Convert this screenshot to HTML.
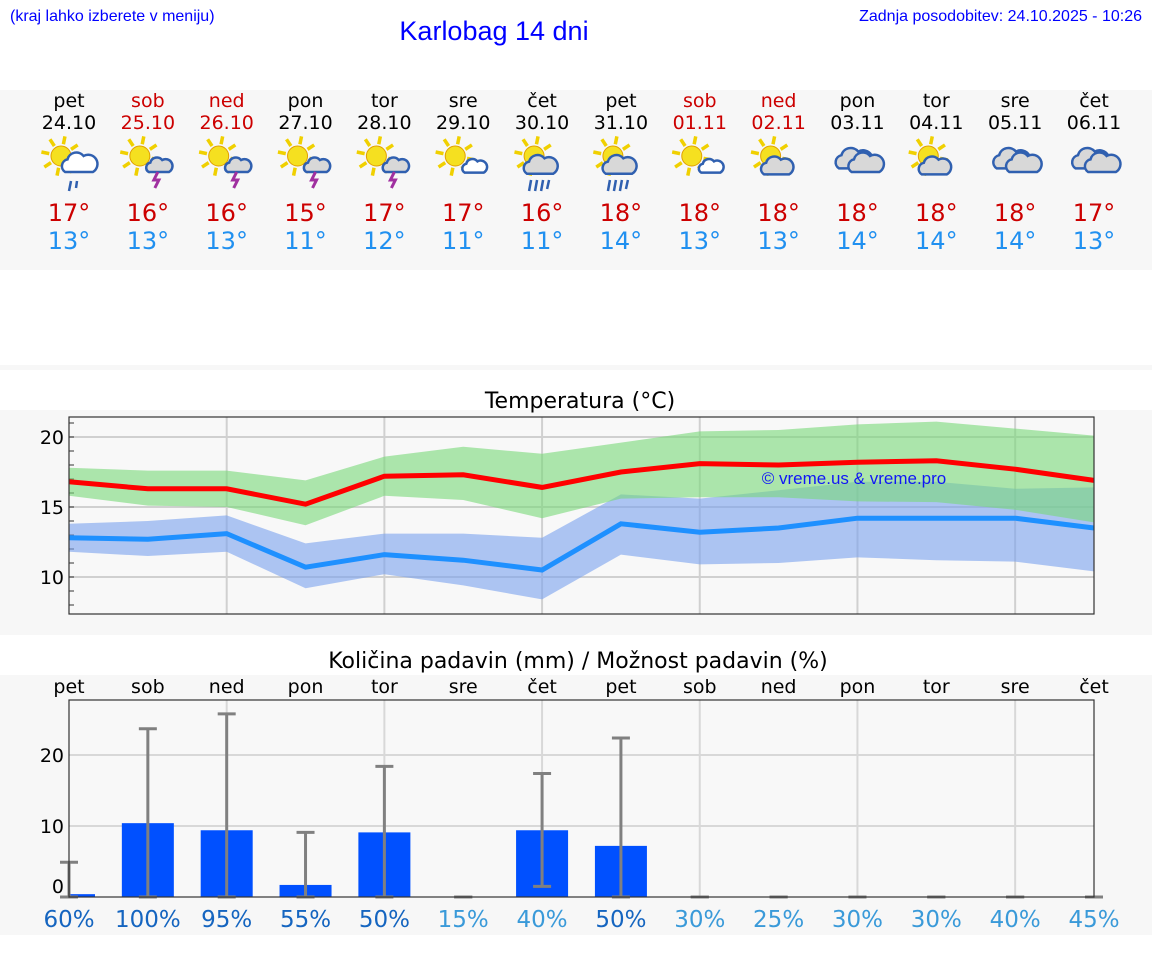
<!DOCTYPE html>
<html><head><meta charset="utf-8"><style>
body{margin:0;width:1152px;height:975px;background:#fff;font-family:"Liberation Sans","DejaVu Sans",sans-serif;position:relative;overflow:hidden}
svg{position:absolute;left:0;top:0}
</style></head><body>
<svg width="1152" height="975" id="svg" font-family="DejaVu Sans, Liberation Sans, sans-serif">
<text x="10" y="21" font-size="16" fill="#0000ff" font-family="Liberation Sans">(kraj lahko izberete v meniju)</text>
<text x="494" y="40" font-size="27" fill="#0000ff" text-anchor="middle" font-family="Liberation Sans">Karlobag 14 dni</text>
<text x="1142" y="21" font-size="16" fill="#0000ff" text-anchor="end" font-family="Liberation Sans">Zadnja posodobitev: 24.10.2025 - 10:26</text>
<rect x="0" y="90" width="1152" height="180" fill="#f7f7f7"/>
<rect x="0" y="365" width="1152" height="5" fill="#f7f7f7"/>
<rect x="0" y="410" width="1152" height="225" fill="#f7f7f7"/>
<rect x="0" y="675" width="1152" height="260" fill="#f7f7f7"/>
<text x="580" y="408" font-size="22" text-anchor="middle" fill="#000">Temperatura (°C)</text>
<text x="578" y="668" font-size="22" text-anchor="middle" fill="#000">Količina padavin (mm) / Možnost padavin (%)</text>
<g id="topg"></g><g id="temp"></g><g id="prec"></g>
</svg>
<script>
const days=["pet","sob","ned","pon","tor","sre","čet","pet","sob","ned","pon","tor","sre","čet"];
const dates=["24.10","25.10","26.10","27.10","28.10","29.10","30.10","31.10","01.11","02.11","03.11","04.11","05.11","06.11"];
const weekend=[0,1,1,0,0,0,0,0,1,1,0,0,0,0];
const icons=["shower","storm","storm","storm","storm","suncloud","rain","rain","suncloud","suncloud2","cloud","suncloud2","cloud","cloud"];
const hiLabels=[17,16,16,15,17,17,16,18,18,18,18,18,18,17];
const loLabels=[13,13,13,11,12,11,11,14,13,13,14,14,14,13];
const maxMean=[16.8,16.3,16.3,15.2,17.2,17.3,16.4,17.5,18.1,18.0,18.2,18.3,17.7,16.9];
const maxHigh=[17.8,17.6,17.6,16.9,18.6,19.3,18.8,19.6,20.4,20.5,20.9,21.1,20.6,20.1];
const maxLow=[15.8,15.1,15.0,13.7,15.8,15.5,14.2,15.6,15.7,15.7,15.4,15.35,14.8,13.9];
const minMean=[12.8,12.7,13.1,10.7,11.6,11.2,10.5,13.8,13.2,13.5,14.2,14.2,14.2,13.5];
const minHigh=[13.8,14.0,14.4,12.4,13.1,13.1,12.8,15.9,15.6,16.2,16.8,16.8,16.3,16.4];
const minLow=[11.8,11.5,11.8,9.2,10.2,9.4,8.4,11.6,10.9,11.0,11.4,11.2,11.1,10.4];
const tempTicks=[10,15,20];
const precip=[0.4,10.4,9.4,1.7,9.1,0,9.4,7.2,0,0,0,0,0,0];
const errHigh=[4.9,23.7,25.8,9.1,18.4,0,17.4,22.4,0,0,0,0,0,0];
const errLow=[0,0,0,0,0,0,1.5,0,0,0,0,0,0,0];
const chance=[60,100,95,55,50,15,40,50,30,25,30,30,40,45];
const precTicks=[0,10,20];
const NS="http://www.w3.org/2000/svg";
function el(p,t,a,txt){const e=document.createElementNS(NS,t);for(const k in a)e.setAttribute(k,a[k]);if(txt!==undefined)e.textContent=txt;p.appendChild(e);return e;}
const X0=69,X1=1094;
const xs=i=>X0+i*(X1-X0)/13;
const yT=v=>507-(v-15)*14;
const yP=v=>897-v*7.1;
const topG=document.getElementById('topg'),temp=document.getElementById('temp'),prec=document.getElementById('prec');
function sun(g,cx,cy,r){for(let k=0;k<8;k++){const a=k*Math.PI/4+0.2;el(g,'line',{x1:cx+Math.cos(a)*r*1.2,y1:cy+Math.sin(a)*r*1.2,x2:cx+Math.cos(a)*r*2.0,y2:cy+Math.sin(a)*r*2.0,stroke:'#f0d000','stroke-width':3.5});}el(g,'circle',{cx:cx,cy:cy,r:r,fill:'#f5e020',stroke:'#e0a000','stroke-width':1});}
function cloud(g,cx,cy,s,fill){el(g,'path',{d:`M${cx-12*s},${cy+7*s} a${6*s},${6*s} 0 0 1 ${2*s},${-11*s} a${8*s},${8*s} 0 0 1 ${14*s},${-3*s} a${6*s},${6*s} 0 0 1 ${8*s},${14*s} z`,fill:fill,stroke:'#3060b0','stroke-width':2.5});}
for(let i=0;i<14;i++){
  const cx=xs(i);
  let t=el(topG,'text',{x:cx,y:107,'font-size':19,'text-anchor':'middle',fill:weekend[i]?'#cc0000':'#000'},days[i]);
  
  t=el(topG,'text',{x:cx,y:129,'font-size':19,'text-anchor':'middle',fill:weekend[i]?'#cc0000':'#000'},dates[i]);
  
  const g=el(topG,'g',{});
  
  const ic=icons[i];
  if(ic=='cloud'){cloud(g,cx-4,160,1.2,'#d8d8d8');cloud(g,cx+8,164,1.15,'#d8d8d8');}
  else{
    sun(g,cx-8,156,10);
    if(ic=='shower'){cloud(g,cx+10,164,1.15,'#fff');el(g,'path',{d:`M${cx+2},181 l-2,10 M${cx+8},181 l-1,7`,stroke:'#3060b0','stroke-width':2.5});}
    else if(ic=='storm'){cloud(g,cx+11,166,0.85,'#d8d8d8');el(g,'path',{d:`M${cx+10},172 l-4,8 h5 l-4,8`,stroke:'#a030a0','stroke-width':3,fill:'none'});}
    else if(ic=='rain'){cloud(g,cx-2,166,1.1,'#d8d8d8');el(g,'path',{d:`M${cx-11},180 l-2,11 M${cx-5},180 l-2,11 M${cx+1},180 l-2,11 M${cx+7},180 l-2,9`,stroke:'#3060b0','stroke-width':2.5});}
    else if(ic=='suncloud'){cloud(g,cx+11,167,0.8,'#fff');}
    else {cloud(g,cx-2,167,1.05,'#d8d8d8');}
  }
  t=el(topG,'text',{x:cx,y:221,'font-size':24,'text-anchor':'middle',fill:'#cc0000'},hiLabels[i]+'°');
  
  t=el(topG,'text',{x:cx,y:249,'font-size':24,'text-anchor':'middle',fill:'#2090f0'},loLabels[i]+'°');
  
}
// temperature chart
el(temp,'rect',{x:X0,y:417,width:X1-X0,height:197,fill:'#f8f8f8'});
for(const v of tempTicks){el(temp,'line',{x1:X0,x2:X1,y1:yT(v),y2:yT(v),stroke:'#d0d0d0','stroke-width':2});
 const t=el(temp,'text',{x:64,y:yT(v)+7,'font-size':19,'text-anchor':'end'},v);}
for(let v=8;v<=21;v++)el(temp,'line',{x1:X0,x2:X0+5,y1:yT(v),y2:yT(v),stroke:'#333'});
for(let i=2;i<14;i+=2)el(temp,'line',{x1:xs(i),x2:xs(i),y1:417,y2:614,stroke:'#d0d0d0','stroke-width':2});
function band(hi,lo,fill,name){let d='M'+hi.map((v,i)=>xs(i)+','+yT(v)).join(' L')+' L'+lo.map((v,i)=>xs(i)+','+yT(v)).reverse().join(' L')+'Z';
 const p=el(temp,'path',{d:d,fill:fill,'fill-opacity':0.6});}
band(minHigh,minLow,'#7aa2ee','min-temp-range');
band(maxHigh,maxLow,'#78d878','max-temp-range');
function line(v,c,name){const p=el(temp,'polyline',{points:v.map((a,i)=>xs(i)+','+yT(a)).join(' '),fill:'none',stroke:c,'stroke-width':5});}
line(maxMean,'#ff0000','max-temp-line');line(minMean,'#1e90ff','min-temp-line');
let wm=el(temp,'text',{x:854,y:484,'font-size':17,'text-anchor':'middle',fill:'#0000ff',opacity:0.9,'font-family':'Liberation Sans'},'© vreme.us & vreme.pro');

el(temp,'rect',{x:X0,y:417,width:X1-X0,height:197,fill:'none',stroke:'#333','stroke-width':1.2});
// precipitation chart
el(prec,'rect',{x:X0,y:700,width:X1-X0,height:197,fill:'#f8f8f8'});
for(const v of precTicks){if(v>0)el(prec,'line',{x1:X0,x2:X1,y1:yP(v),y2:yP(v),stroke:'#d8d8d8','stroke-width':2});
 const t=el(prec,'text',{x:64,y:yP(v)+(v?7:-4),'font-size':19,'text-anchor':'end'},v);}
for(let i=2;i<14;i+=2)el(prec,'line',{x1:xs(i),x2:xs(i),y1:700,y2:897,stroke:'#d8d8d8','stroke-width':2});
for(let i=0;i<14;i++){
 const cx=xs(i);
 let t=el(prec,'text',{x:cx,y:693,'font-size':19,'text-anchor':'middle'},days[i]);
 const bx=Math.max(X0,cx-26),bw=cx-26<X0?(cx+26-X0):52;
 if(precip[i]>0){const b=el(prec,'rect',{x:bx,y:yP(precip[i]),width:bw,height:yP(0)-yP(precip[i]),fill:'#0050ff'});}
 const eg=el(prec,'g',{stroke:'#808080','stroke-width':3});
 el(eg,'line',{x1:cx,x2:cx,y1:yP(errHigh[i]),y2:yP(errLow[i])});
 el(eg,'line',{x1:cx-9,x2:cx+9,y1:yP(errHigh[i]),y2:yP(errHigh[i])});
 el(eg,'line',{x1:cx-9,x2:cx+9,y1:yP(errLow[i]),y2:yP(errLow[i])});
 t=el(prec,'text',{x:cx,y:927,'font-size':23,'text-anchor':'middle',fill:chance[i]>=50?'#1565c0':'#3a9ad9'},chance[i]+'%');
}
el(prec,'rect',{x:X0,y:700,width:X1-X0,height:197,fill:'none',stroke:'#333','stroke-width':1.2});
</script>
</body></html>
